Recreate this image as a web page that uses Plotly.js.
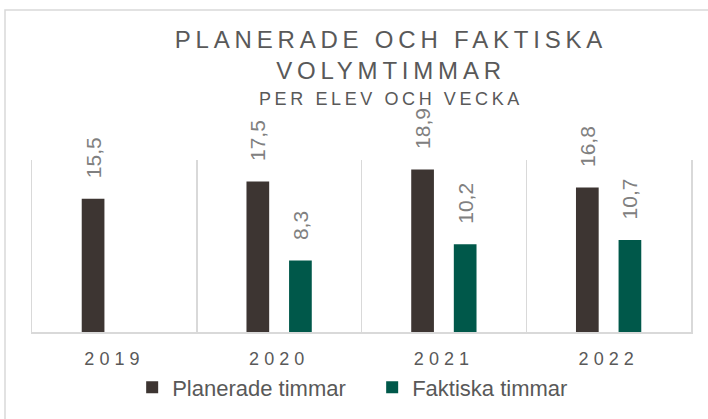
<!DOCTYPE html>
<html>
<head>
<meta charset="utf-8">
<script src="https://cdn.plot.ly/plotly-3.0.1.min.js"></script>
<style>
  html, body { margin: 0; padding: 0; background: #fff; }
  #chart { width: 708px; height: 419px; }
  .gtitle { letter-spacing: 0.2em; }
  .annotation-text { letter-spacing: 0.2em; }
  .xtick text { letter-spacing: 5px; }
</style>
</head>
<body>
<div id="chart"></div>
<script>
const categories = ['2019', '2020', '2021', '2022'];
const planerade = [15.5, 17.5, 18.9, 16.8];
const faktiska = [null, 8.3, 10.2, 10.7];
const seriesNames = ['Planerade timmar', 'Faktiska timmar'];

const labelFont = { family: '"Liberation Sans", Arial, sans-serif', size: 21, color: '#808080' };
const pad = '\u00a0\u00a0\u00a0';

const traces = [
  {
    type: 'bar', name: seriesNames[0], x: categories, y: planerade,
    marker: { color: '#3d3532' },
    texttemplate: pad + '%{y:.1f}', textposition: 'outside', textangle: -90,
    textfont: labelFont, cliponaxis: false, constraintext: 'none', hoverinfo: 'none'
  },
  {
    type: 'bar', name: seriesNames[1], x: categories, y: faktiska,
    marker: { color: '#00584a' },
    texttemplate: pad + '%{y:.1f}', textposition: 'outside', textangle: -90,
    textfont: labelFont, cliponaxis: false, constraintext: 'none', hoverinfo: 'none'
  }
];

const layout = {
  width: 708, height: 419,
  margin: { l: 32, r: 17, t: 160, b: 87, pad: 0, autoexpand: false },
  paper_bgcolor: '#ffffff', plot_bgcolor: '#ffffff',
  separators: ', ',
  font: { family: '"Liberation Sans", Arial, sans-serif', color: '#595959' },
  title: {
    text: 'PLANERADE OCH FAKTISKA<br>VOLYMTIMMAR',
    font: { size: 24, color: '#595959', family: '"Liberation Sans", Arial, sans-serif' },
    xref: 'container', x: 391 / 708, xanchor: 'center',
    yref: 'container', y: 1 - 48 / 419, yanchor: 'top'
  },
  annotations: [{
    text: 'PER ELEV OCH VECKA', showarrow: false,
    xref: 'paper', yref: 'paper', x: 0.5448, y: 1.356,
    xanchor: 'center', yanchor: 'middle',
    font: { size: 18, color: '#595959', family: '"Liberation Sans", Arial, sans-serif' }
  }],
  barmode: 'group', bargap: 0.483, bargroupgap: 0.467,
  xaxis: {
    type: 'category', tickson: 'boundaries', showgrid: true, gridcolor: '#d9d9d9', gridwidth: 1.5,
    showline: true, linecolor: '#d9d9d9', linewidth: 1.5, ticks: '', mirror: false,
    tickfont: { size: 18, color: '#595959' }, ticklabelstandoff: 10,
    fixedrange: true, zeroline: false
  },
  yaxis: {
    range: [0, 20], showticklabels: false, ticks: '', showgrid: false, zeroline: false,
    showline: true, linecolor: '#d9d9d9', linewidth: 1.5, mirror: true, fixedrange: true
  },
  showlegend: true,
  legend: {
    orientation: 'h', x: 0.152, xanchor: 'left', y: -0.20, yanchor: 'top',
    font: { size: 22, color: '#595959' }, entrywidth: 195, entrywidthmode: 'pixels',
    itemclick: false, itemdoubleclick: false, bgcolor: 'rgba(0,0,0,0)'
  },
  shapes: [{
    type: 'rect', xref: 'paper', yref: 'paper',
    x0: (5 - 32) / 659, x1: (730 - 32) / 659, y0: -1, y1: (332 - 10) / 172,
    line: { color: '#d9d9d9', width: 1.5 }, fillcolor: 'rgba(0,0,0,0)', layer: 'below'
  }]
};

Plotly.newPlot('chart', traces, layout, { displayModeBar: false, staticPlot: true });
</script>
</body>
</html>
